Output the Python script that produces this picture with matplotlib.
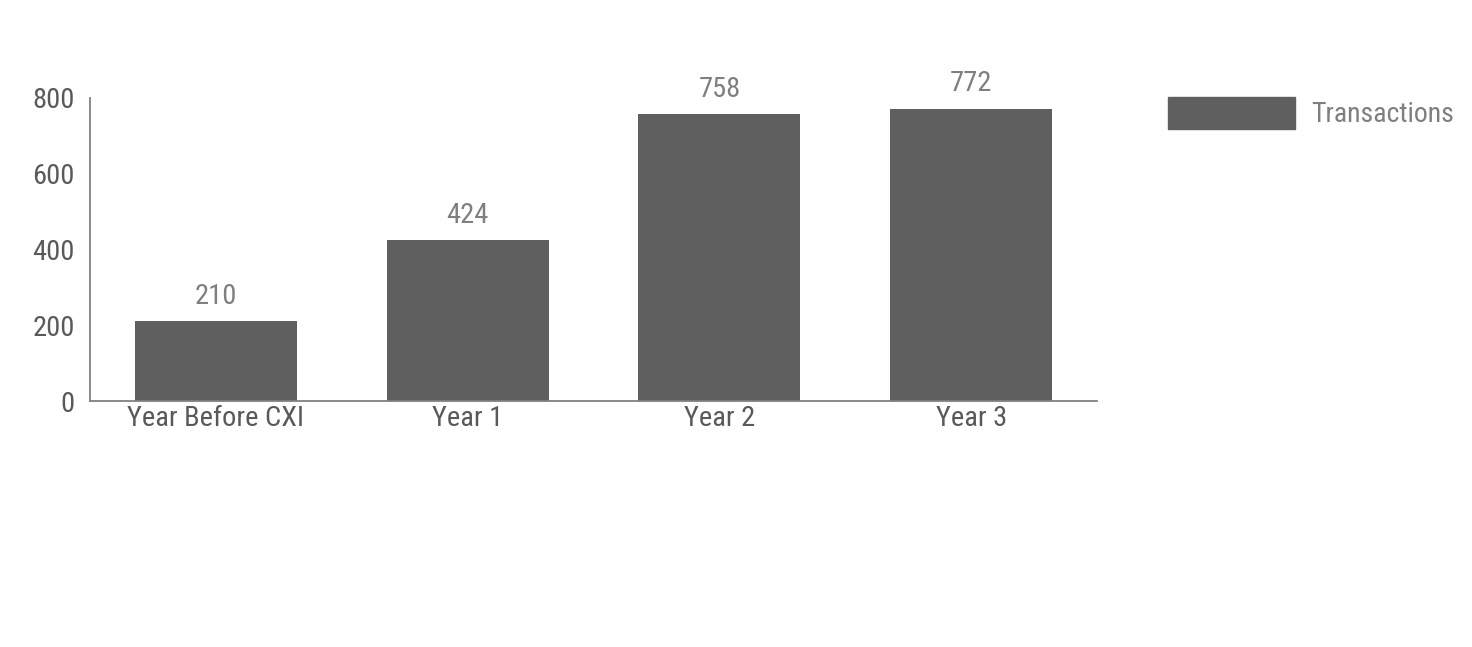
import matplotlib
matplotlib.use("Agg")
import matplotlib.pyplot as plt
from matplotlib import font_manager as fm
from matplotlib.patches import Patch

names = {f.name for f in fm.fontManager.ttflist}
fam = "Roboto Condensed" if "Roboto Condensed" in names else "Roboto"
plt.rcParams['font.family'] = [fam, 'DejaVu Sans']

categories = ["Year Before CXI", "Year 1", "Year 2", "Year 3"]
transactions = [210, 424, 758, 772]
yticks = [0, 200, 400, 600, 800]

fig = plt.figure(figsize=(14.72, 6.47), dpi=100)
ax = fig.add_axes([90/1472, 1-401/647, (1097-90)/1472, (401-98)/647])

bar_color = "#5f5f5f"
x = range(len(categories))
bars = ax.bar(x, transactions, width=0.643, color=bar_color, label="Transactions")
for xi, v in zip(x, transactions):
    ax.annotate(str(v), (xi, v), xytext=(0, 8), textcoords="offset points",
                ha="center", va="bottom", fontsize=20.5, color="#7f7f7f", fontstretch="condensed")

ax.set_xlim(-0.5, len(categories) - 0.5)
ax.set_ylim(0, 800)
ax.set_yticks(yticks)
ax.set_xticks(list(x))
ax.set_xticklabels(categories)
for s in ["top", "right"]:
    ax.spines[s].set_visible(False)
for s in ["left", "bottom"]:
    ax.spines[s].set_color("#808080")
    ax.spines[s].set_linewidth(1.3)
ax.tick_params(axis="both", length=0, labelsize=20.5, labelcolor="#595959")
ax.tick_params(axis="y", pad=11)
ax.tick_params(axis="x", pad=3)
for t in ax.get_xticklabels() + ax.get_yticklabels():
    t.set_fontstretch("condensed")

leg = fig.legend(handles=[Patch(color=bar_color, label="Transactions")],
                 loc="upper left", bbox_to_anchor=(1157/1472, 1-86/647),
                 frameon=False, fontsize=20, handlelength=4.57, handleheight=1.4,
                 handletextpad=0.58, borderaxespad=0)
for t in leg.get_texts():
    t.set_color("#7f7f7f")
    t.set_fontstretch("condensed")

fig.savefig("out.png", dpi=100)
